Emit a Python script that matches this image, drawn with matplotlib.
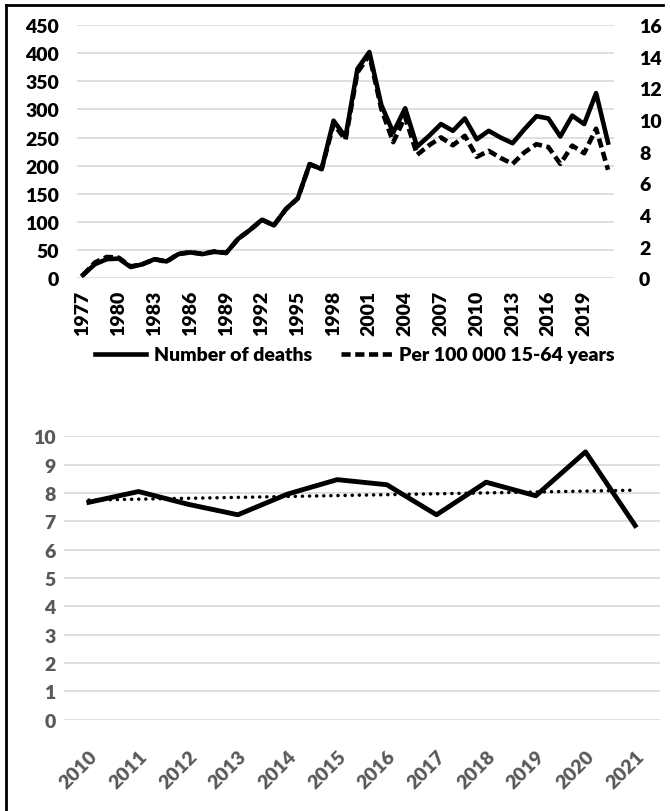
import matplotlib
matplotlib.use("Agg")
import matplotlib.pyplot as plt
import numpy as np
from matplotlib.lines import Line2D
from matplotlib.transforms import ScaledTranslation

plt.rcParams['font.family'] = ['Lato', 'DejaVu Sans']
plt.rcParams['font.weight'] = 'heavy'

# ---------------- data ----------------
years = list(range(1977, 2022))
deaths = [6, 25, 34, 35, 20, 25, 34, 30, 43, 46, 43, 47, 45, 70, 86, 104, 94, 123, 142,
          203, 194, 280, 251, 372, 402, 308, 259, 302, 234, 253, 274, 262, 284, 247,
          262, 250, 240, 265, 288, 284, 252, 289, 274, 329, 241]
rate = [0.2, 1.0, 1.35, 1.3, 0.75, 0.9, 1.2, 1.05, 1.55, 1.65, 1.55, 1.7, 1.6, 2.5, 3.05,
        3.7, 3.35, 4.35, 5.05, 7.2, 6.9, 9.75, 8.75, 13.0, 14.1, 10.7, 8.6, 10.2, 7.8,
        8.4, 8.9, 8.4, 9.0, 7.67, 8.05, 7.6, 7.23, 7.96, 8.47, 8.29, 7.23, 8.38, 7.9,
        9.45, 6.85]
left_ticks = list(range(0, 451, 50))
right_ticks = list(range(0, 17, 2))
legend_labels = ["Number of deaths", "Per 100 000 15-64 years"]

years2 = [str(y) for y in range(2010, 2022)]
rate2 = [7.67, 8.05, 7.6, 7.23, 7.96, 8.47, 8.29, 7.23, 8.38, 7.9, 9.45, 6.85]
ticks2 = list(range(0, 11))

# ---------------- figure ----------------
W, H = 670, 812
fig = plt.figure(figsize=(W / 100, H / 100), dpi=100)

def rect(x0, y0, x1, y1):
    return [x0 / W, 1 - y1 / H, (x1 - x0) / W, (y1 - y0) / H]

grid_c = '#d9d9d9'
fs = 14
dash = (0, (2.0, 1.0))

# ---- top chart ----
ax = fig.add_axes(rect(77, 26, 614, 279.3))
ax2 = ax.twinx()
x = np.arange(len(years))
ax.plot(x, deaths, color='black', lw=3.3, zorder=3)
ax2.plot(x, rate, color='black', lw=3.3, linestyle=dash, zorder=3)
ax.set_xlim(-0.5, len(years) - 0.5)
ax.set_ylim(0, 450)
ax2.set_ylim(0, 16)
ax.set_yticks(left_ticks)
ax2.set_yticks(right_ticks)
ax.set_xticks(x[::3])
ax.set_xticklabels([str(years[i]) for i in x[::3]], rotation=90)
ax.yaxis.grid(True, color=grid_c, lw=1.2)
ax.set_axisbelow(True)
for a in (ax, ax2):
    for s in a.spines.values():
        s.set_visible(False)
ax.tick_params(axis='y', length=0, pad=13, labelsize=fs, labelcolor='black')
ax2.tick_params(axis='y', length=0, pad=18, labelsize=fs, labelcolor='black')
ax.tick_params(axis='x', length=0, pad=8, labelsize=fs, labelcolor='black')

handles = [Line2D([], [], color='black', lw=3.3),
           Line2D([], [], color='black', lw=3.3, linestyle=dash)]
fig.legend(handles, legend_labels, loc='center', bbox_to_anchor=(0.53, 1 - 356 / H),
           ncol=2, frameon=False, fontsize=fs, handlelength=2.6, columnspacing=1.5,
           handletextpad=0.4)

# ---- bottom chart ----
bx = fig.add_axes(rect(64, 437.3, 660, 720.6))
xb = np.arange(len(years2))
bx.plot(xb, rate2, color='black', lw=3.5, zorder=3)
coef = np.polyfit(xb, rate2, 1)
bx.plot(xb, np.polyval(coef, xb), color='black', lw=2.5,
        linestyle=(0, (0.05, 2.0)), dash_capstyle='round', zorder=2)
bx.set_xlim(-0.5, len(years2) - 0.5)
bx.set_ylim(0, 10)
bx.set_yticks(ticks2)
bx.set_xticks(xb)
bx.set_xticklabels(years2, rotation=45, ha='right', va='center', rotation_mode='anchor')
bx.yaxis.grid(True, color=grid_c, lw=1.2)
bx.set_axisbelow(True)
for s in bx.spines.values():
    s.set_visible(False)
bx.tick_params(axis='y', length=0, pad=6, labelsize=fs, labelcolor='#595959')
bx.tick_params(axis='x', length=0, pad=24, labelsize=fs, labelcolor='#595959')
for lbl in bx.get_xticklabels():
    lbl.set_transform(lbl.get_transform() + ScaledTranslation(6 / 100, 0, fig.dpi_scale_trans))

# ---- frame ----
fig.add_artist(Line2D([6 / W, 6 / W], [0, 1 - 6 / H], color='black', lw=2,
                      transform=fig.transFigure))
fig.add_artist(Line2D([6 / W, 663 / W], [1 - 6 / H, 1 - 6 / H], color='black', lw=2,
                      transform=fig.transFigure))

fig.savefig('out.png', dpi=100)
